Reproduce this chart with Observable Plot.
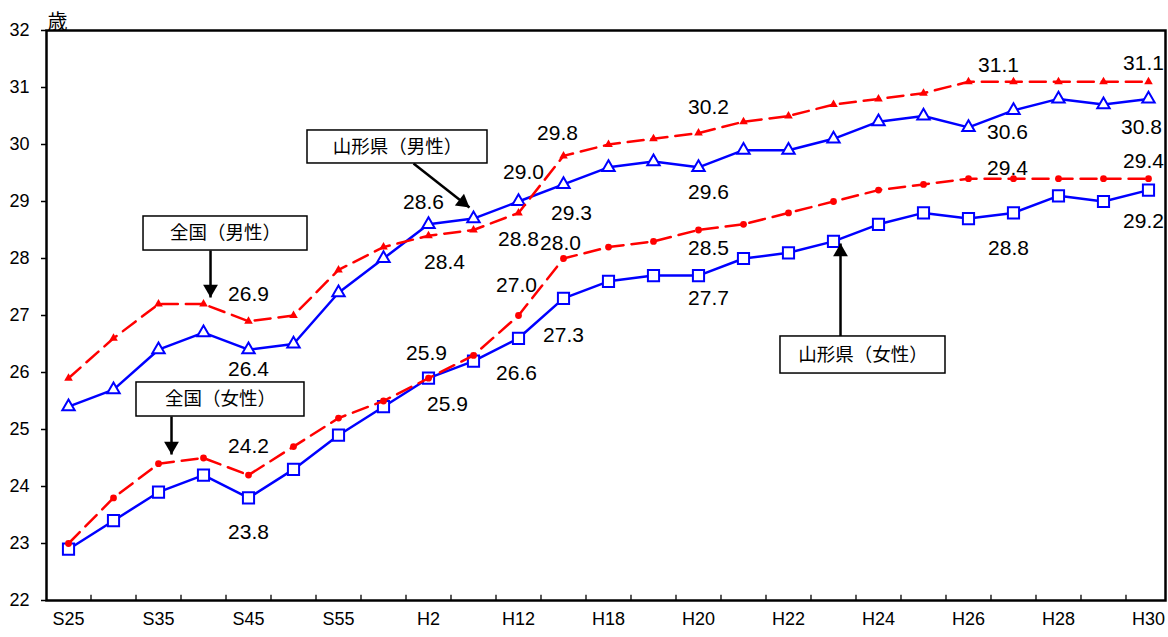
<!DOCTYPE html>
<html>
<head>
<meta charset="utf-8">
<script src="https://cdn.jsdelivr.net/npm/d3@7"></script>
<script src="https://cdn.jsdelivr.net/npm/@observablehq/plot@0.6"></script>
<style>
  html, body { margin: 0; padding: 0; background: #fff; }
  #chart svg { display: block; }
</style>
</head>
<body>
<div id="chart"></div>
<script>
const categories = ["S25","S30","S35","S40","S45","S50","S55","S60","H2","H7","H12","H17","H18","H19","H20","H21","H22","H23","H24","H25","H26","H27","H28","H29","H30"];
const zenkokuMale    = [25.9,26.6,27.2,27.2,26.9,27.0,27.8,28.2,28.4,28.5,28.8,29.8,30.0,30.1,30.2,30.4,30.5,30.7,30.8,30.9,31.1,31.1,31.1,31.1,31.1];
const yamagataMale   = [25.4,25.7,26.4,26.7,26.4,26.5,27.4,28.0,28.6,28.7,29.0,29.3,29.6,29.7,29.6,29.9,29.9,30.1,30.4,30.5,30.3,30.6,30.8,30.7,30.8];
const zenkokuFemale  = [23.0,23.8,24.4,24.5,24.2,24.7,25.2,25.5,25.9,26.3,27.0,28.0,28.2,28.3,28.5,28.6,28.8,29.0,29.2,29.3,29.4,29.4,29.4,29.4,29.4];
const yamagataFemale = [22.9,23.4,23.9,24.2,23.8,24.3,24.9,25.4,25.9,26.2,26.6,27.3,27.6,27.7,27.7,28.0,28.1,28.3,28.6,28.8,28.7,28.8,29.1,29.0,29.2];
const yTicks = [22,23,24,25,26,27,28,29,30,31,32];
const xLabelIdx = [0,2,4,6,8,10,12,14,16,18,20,22,24];
const unit = "歳";

// value labels: [category index, dx, dy]
const zmLabels = [[4,0,-27],[8,16,27],[10,0,26],[11,-6,-23],[14,10,-26],[21,-15,-17],[24,-5,-19]];
const ymLabels = [[4,0,20],[8,-5,-22],[10,5,-29],[11,8,29],[14,10,25],[21,-6,22],[24,-7,28]];
const zfLabels = [[4,0,-29],[8,-2,-25],[10,-2,-30],[11,-3,-15],[14,10,18],[21,-6,-10],[24,-5,-17]];
const yfLabels = [[4,0,34],[8,19,26],[10,-2,35],[11,0,37],[14,10,23],[21,-5,35],[24,-5,31]];

// callouts (box and arrow in data units)
const callouts = [
  {text:"全国（男性）",   x1:1.667, x2:5.311, y1:28.14, y2:28.737, ax1:3.156, ay1:28.14, ax2:3.156, ay2:27.316, rot:180, hdx:0, hdy:-8.5},
  {text:"山形県（男性）", x1:5.311, x2:9.311, y1:29.667, y2:30.246, ax1:7.667, ay1:29.667, ax2:8.911, ay2:28.895, rot:128, hdx:-6.7, hdy:-5.3},
  {text:"全国（女性）",   x1:1.511, x2:5.244, y1:25.228, y2:25.825, ax1:2.289, ay1:25.228, ax2:2.289, ay2:24.561, rot:180, hdx:0, hdy:-8.5},
  {text:"山形県（女性）", x1:15.822, x2:19.489, y1:25.982, y2:26.632, ax1:17.156, ay1:26.632, ax2:17.156, ay2:28.263, rot:0, hdx:0, hdy:8.5}
];

const mk = arr => arr.map((v, i) => ({i, v}));
const lab = (labels, arr) => labels.map(([i, dx, dy]) => ({i, v: arr[i], dx, dy}));
const mids = d3.range(0, categories.length - 1).map(i => i + 0.5);

const RED = "#ff0000", BLUE = "#0000ff";
const numFont = "Liberation Sans, Arial, sans-serif";
const jpFont = "Noto Sans CJK JP, sans-serif";

function valueText(labels, arr) {
  const data = lab(labels, arr);
  return data.map(d => Plot.text([d], {
    x: "i", y: "v", text: d => d.v.toFixed(1), dx: d.dx, dy: d.dy,
    fontSize: 21, fill: "#000", fontFamily: numFont
  }));
}

const chart = Plot.plot({
  width: 1168,
  height: 637,
  marginLeft: 46,
  marginRight: 3,
  marginTop: 30,
  marginBottom: 37,
  style: {background: "#fff", fontFamily: numFont},
  x: {type: "linear", domain: [-0.489, 24.378], axis: null},
  y: {domain: [22, 32], axis: null},
  marks: [
    Plot.axisY(yTicks, {tickSize: 5, tickPadding: 12, fontSize: 18, strokeWidth: 1.5, tickFormat: d => d, fill: "#000"}),
    Plot.axisX(xLabelIdx, {tickSize: 0, tickPadding: 12, fontSize: 18, tickFormat: i => categories[i], fill: "#000", anchor: "bottom"}),
    Plot.ruleX(mids, {y1: 22, y2: 22.09, stroke: "#000", strokeWidth: 1.3}),
    Plot.frame({stroke: "#000", strokeWidth: 2.5}),
    Plot.text([unit], {frameAnchor: "top-left", textAnchor: "start", lineAnchor: "bottom", dx: 1, dy: -2, fontSize: 20, fontFamily: jpFont, fill: "#000"}),

    // Yamagata (blue solid)
    Plot.line(mk(yamagataMale), {x: "i", y: "v", stroke: BLUE, strokeWidth: 2.5}),
    Plot.line(mk(yamagataFemale), {x: "i", y: "v", stroke: BLUE, strokeWidth: 2.5}),
    Plot.dot(mk(yamagataMale), {x: "i", y: "v", symbol: "triangle", r: 4.6, fill: "#fff", stroke: BLUE, strokeWidth: 2}),
    Plot.dot(mk(yamagataFemale), {x: "i", y: "v", symbol: "square", r: 6.3, fill: "#fff", stroke: BLUE, strokeWidth: 2}),

    // National (red dashed)
    Plot.line(mk(zenkokuMale), {x: "i", y: "v", stroke: RED, strokeWidth: 2.5, strokeDasharray: "16,8"}),
    Plot.line(mk(zenkokuFemale), {x: "i", y: "v", stroke: RED, strokeWidth: 2.5, strokeDasharray: "16,8"}),
    Plot.dot(mk(zenkokuMale), {x: "i", y: "v", symbol: "triangle", r: 3.2, fill: RED, stroke: "none"}),
    Plot.dot(mk(zenkokuFemale), {x: "i", y: "v", symbol: "circle", r: 3.4, fill: RED, stroke: "none"}),

    // value labels
    ...valueText(zmLabels, zenkokuMale),
    ...valueText(ymLabels, yamagataMale),
    ...valueText(zfLabels, zenkokuFemale),
    ...valueText(yfLabels, yamagataFemale),

    // callouts
    Plot.link(callouts, {x1: "ax1", y1: "ay1", x2: "ax2", y2: "ay2", stroke: "#000", strokeWidth: 2.5}),
    ...callouts.map(c => Plot.dot([c], {x: "ax2", y: "ay2", symbol: "triangle", r: 5.5, rotate: c.rot, dx: c.hdx, dy: c.hdy, fill: "#000", stroke: "none"})),
    Plot.rect(callouts, {x1: "x1", x2: "x2", y1: "y1", y2: "y2", fill: "#fff", stroke: "#000", strokeWidth: 1.5}),
    Plot.text(callouts, {x: d => (d.x1 + d.x2) / 2, y: d => (d.y1 + d.y2) / 2, text: "text", fontSize: 18.5, fontFamily: jpFont, fill: "#000"})
  ]
});

document.getElementById("chart").appendChild(chart);
</script>
</body>
</html>
